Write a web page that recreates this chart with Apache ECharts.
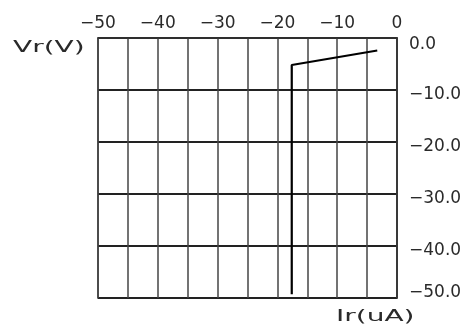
<!DOCTYPE html>
<html>
<head>
    <meta charset="utf-8">
    <title>Ir-Vr</title>
    <script src="https://cdn.jsdelivr.net/npm/echarts@6/dist/echarts.min.js"></script>
    <style>
        html, body { margin: 0; padding: 0; background: #ffffff; }
        #chart { width: 468px; height: 331px; }
    </style>
</head>
<body>
    <div id="chart"></div>
    <script>
        // 数据
        var irValues = [-3.3, -17.6, -17.6];   // Ir (uA)
        var vrValues = [-2.4, -5.2, -49.3];    // Vr (V)
        var xTicks = [-50, -40, -30, -20, -10, 0];
        var yTicks = [0, -10, -20, -30, -40, -50];

        var points = irValues.map(function (x, i) { return [x, vrValues[i]]; });
        var font = 'DejaVu Sans';
        var txtColor = '#2a2a2a';
        var fmtMinus = function (s) { return String(s).replace('-', '\u2212'); };

        var chart = echarts.init(document.getElementById('chart'));
        var option = {
            animation: false,
            backgroundColor: '#ffffff',
            grid: {
                left: 98, top: 38, width: 299, height: 260,
                show: true, borderColor: '#333', borderWidth: 1.5
            },
            xAxis: {
                type: 'value', position: 'top',
                min: -50, max: 0, interval: 5,
                axisLine: { show: true, lineStyle: { color: '#333', width: 1.5 } },
                axisTick: { show: false },
                splitLine: { show: true, lineStyle: { color: '#444', width: 1.5 } },
                axisLabel: {
                    margin: 6, color: txtColor, fontFamily: font, fontSize: 17,
                    formatter: function (v) {
                        return xTicks.indexOf(v) >= 0 ? fmtMinus(v) : '';
                    }
                }
            },
            yAxis: {
                type: 'value', position: 'right',
                min: -50, max: 0, interval: 10,
                axisLine: { show: true, lineStyle: { color: '#333', width: 1.5 } },
                axisTick: { show: false },
                splitLine: { show: true, lineStyle: { color: '#222', width: 2 } },
                axisLabel: {
                    margin: 12, color: txtColor, fontFamily: font, fontSize: 17,
                    formatter: function (v) {
                        if (yTicks.indexOf(v) < 0) return '';
                        var s = fmtMinus(v.toFixed(1));
                        if (v === 0) return '{top|' + s + '}';
                        if (v === -50) return '{bot|' + s + '}';
                        return '{mid|' + s + '}';
                    },
                    rich: {
                        top: { fontFamily: font, fontSize: 17, color: txtColor, padding: [14, 0, 0, 0] },
                        mid: { fontFamily: font, fontSize: 17, color: txtColor, padding: [9, 0, 0, 0] },
                        bot: { fontFamily: font, fontSize: 17, color: txtColor, padding: [0, 0, 10, 0] }
                    }
                }
            },
            graphic: [
                { type: 'text', x: 13, y: 40, scaleX: 1.75,
                  style: { text: 'Vr(V)', fill: txtColor, font: '16px "DejaVu Sans"' } },
                { type: 'text', x: 336, y: 309, scaleX: 1.75,
                  style: { text: 'Ir(uA)', fill: txtColor, font: '16px "DejaVu Sans"' } }
            ],
            series: [{
                type: 'line',
                data: points,
                showSymbol: false,
                lineStyle: { color: '#000', width: 2.2 }
            }]
        };
        chart.setOption(option);
    </script>
</body>
</html>
